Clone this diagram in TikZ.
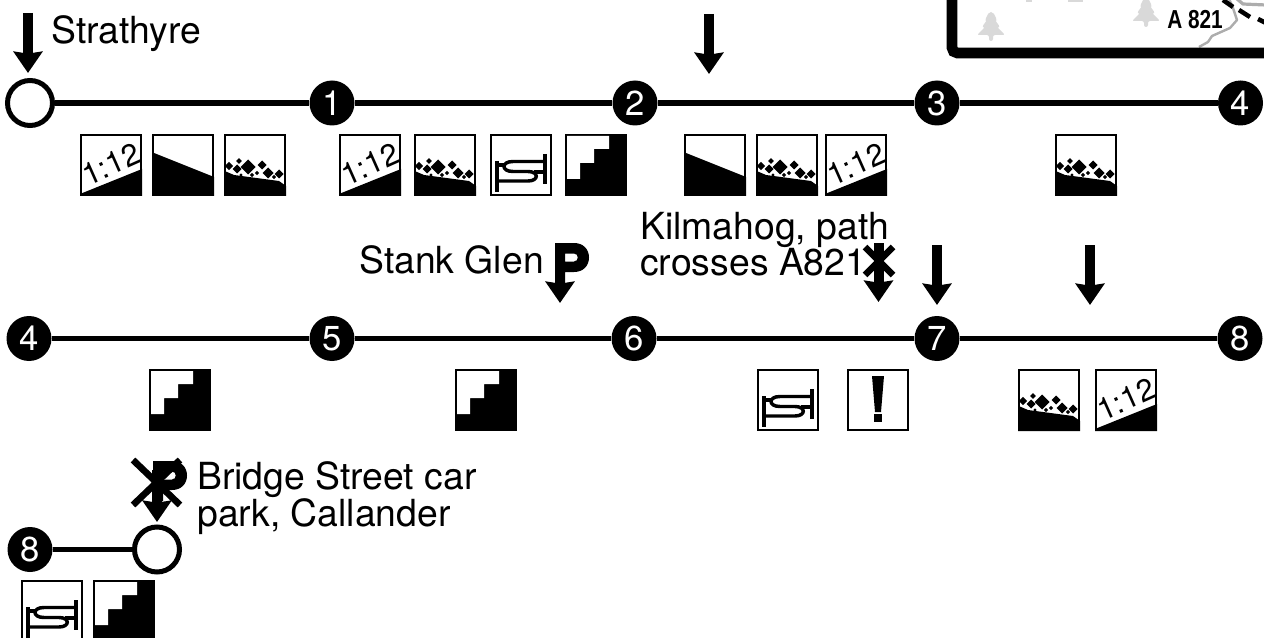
\documentclass[tikz,border=0pt]{standalone}
\usepackage{fontspec}
\usepackage{graphicx}
\setmainfont{TeX Gyre Heros}
\newfontfamily\labelbold{Liberation Sans}[BoldFont={Liberation Sans Bold}]
\usetikzlibrary{arrows.meta}
\definecolor{treegrey}{gray}{0.85}
\definecolor{roadgrey}{gray}{0.68}
\tikzset{
  x=0.75pt,y=-0.75pt,
  open stop/.style={circle,draw=black,fill=white,line width=3.75pt,minimum size=33.75pt,inner sep=0pt},
  num stop/.style={circle,fill=black,text=white,minimum size=33.75pt,inner sep=0pt,font=\fontsize{26}{26}\selectfont},
  route/.style={line width=4.1pt},
  access/.style={line width=7.5pt,-{Stealth[length=16pt,width=21.5pt,inset=1.5pt]}},
  place/.style={inner sep=0pt,anchor=base west,align=left,font=\fontsize{28}{27.75}\selectfont},
  iconframe/.style={draw=black,line width=1.6pt,fill=white},
  cross black/.style={line width=5pt},
  up12/.pic={
    \path[iconframe] (1,1) rectangle (61,61);
    \fill (0,60) -- (62,35) -- (62,62) -- (0,62) -- cycle;
    \node[rotate=24,inner sep=0pt,font=\fontsize{23}{23}\selectfont] at (31,30) {1:12};
  },
  wedge/.pic={
    \path[iconframe] (1,1) rectangle (61,61);
    \fill (2,19) -- (62,43) -- (62,62) -- (0,62) -- (0,19) -- cycle;
  },
  rocks/.pic={
    \path[iconframe] (1,1) rectangle (61,61);
    \fill (0,36.7) -- (10,41) -- (55,47) -- (62,52) -- (62,62) -- (0,62) -- cycle;
    \foreach \cx/\cy/\cr in {5/32/4.2,15/27/2.8,13/35/4.5,24/33/7.5,38/31/4.5,44/39/5.5,55/40/4.5,28/41/2.2,33/39/2.2,17/41/1.7,50/43/2.2}
      {\fill (\cx-\cr,\cy) -- (\cx,\cy-\cr) -- (\cx+\cr,\cy) -- (\cx,\cy+\cr) -- cycle;}
  },
  stairs/.pic={
    \fill (0,0) rectangle (62,62);
    \fill[white] (2,2) -- (44,2) -- (44,15) -- (29,15) -- (29,29) -- (15,29) -- (15,45) -- (2,45) -- cycle;
  },
  bed/.pic={
    \path[iconframe] (1,1) rectangle (61,61);
    \draw[line width=3pt] (6.7,27) -- (6.7,58) (55,20) -- (55,50);
    \draw[line width=2.6pt] (55,27.5) -- (23,27.5) .. controls (11,27.5) and (11,37.5) .. (23,37.5) -- (38,37.5) .. controls (49,37.5) and (49,47) .. (38,47) -- (6.7,47);
    \draw[line width=2.6pt] (6.7,31) -- (15,31) (44,38) -- (55,38);
  },
  warn/.pic={
    \path[iconframe] (1,1) rectangle (61,61);
    \fill (25,7) -- (37,7) -- (34,43) -- (28,43) -- cycle;
    \fill (27,45) rectangle (35,53);
  },
  parkp/.pic={
    \fill[even odd rule] (0,0) -- (19,0) .. controls (28,0) and (34,6) .. (34,14.5) .. controls (34,23) and (28,29) .. (19,29) -- (10,29) -- (10,40) -- (0,40) -- cycle
      (10,10.5) -- (19,10.5) .. controls (24,10.5) and (24,18.5) .. (19,18.5) -- (10,18.5) -- cycle;
  },
  pine/.pic={
    \fill[treegrey,rounded corners=1.5pt] (-2,0) -- (2,0) -- (6,8) -- (4,8) -- (9,15) -- (6,15) -- (14,23) -- (2,23) -- (2,29) -- (-2,29) -- (-2,23) -- (-14,23) -- (-6,15) -- (-9,15) -- (-4,8) -- (-6,8) -- cycle;
  },
}
\begin{document}
\begin{tikzpicture}
\useasboundingbox (0,0) rectangle (1264,638);
\clip (0,0) rectangle (1264,638);

% map inset
\pic at (991,12) {pine};
\pic at (1146,-2) {pine};
\fill[treegrey] (1026,-1) rectangle (1032,2);
\fill[treegrey] (1068,-1) rectangle (1083,2);
\draw[roadgrey,line width=1.8pt,line join=round] (1199,47) -- (1208,42) -- (1212,36) -- (1230,28) -- (1237,20) -- (1232,5) -- (1229,-1);
\draw[roadgrey,line width=2.4pt,line join=round] (1237,-1) -- (1243,4) -- (1266,5);
\draw[line width=3.4pt] (1223,0) -- (1233,7) (1239,10) -- (1250,17) (1258,19) -- (1266,23);
\draw[line width=8pt,rounded corners=4pt] (952,-20) |- (1290,53);
\node[inner sep=0pt,anchor=base west] (a821) at (1167,29) {\scalebox{.8}[1]{\labelbold\bfseries\fontsize{19.5}{19.5}\selectfont A 821}};

% row 1
\node[open stop] (s0) at (30,103) {};
\node[num stop] (r1a) at (332,103) {1};
\node[num stop] (r1b) at (635,103) {2};
\node[num stop] (r1c) at (937,103) {3};
\node[num stop] (r1d) at (1240.5,103) {4};
\draw[route] (s0) -- (r1a);
\draw[route] (r1a) -- (r1b);
\draw[route] (r1b) -- (r1c);
\draw[route] (r1c) -- (r1d);

% row 2
\node[num stop] (r2a) at (29,338.5) {4};
\node[num stop] (r2b) at (332,338.5) {5};
\node[num stop] (r2c) at (634,338.5) {6};
\node[num stop] (r2d) at (937,338.5) {7};
\node[num stop] (r2e) at (1240,338.5) {8};
\draw[route] (r2a) -- (r2b);
\draw[route] (r2b) -- (r2c);
\draw[route] (r2c) -- (r2d);
\draw[route] (r2d) -- (r2e);

% row 3
\node[num stop] (r3a) at (30,549.5) {8};
\node[open stop] (s9) at (157,549.5) {};
\draw[route] (r3a) -- (s9);

% labels
\node[place] (lstr) at (51,44) {Strathyre};
\node[place] (lsta) at (359,273) {Stank Glen};
\node[place] (lkil) at (640,276) {Kilmahog, path\\crosses A821};
\node[place] (lbri) at (197,526) {Bridge Street car\\park, Callander};

% parking signs
\pic at (555,243) {parkp};
\pic at (153,461) {parkp};

% crosses
\draw[cross black] (865,247) -- (893,275) (865,275) -- (893,247);
\draw[cross black] (133,460) -- (180,505) (133,505) -- (180,460);

% access arrows
\coordinate (aa) at (28,13); \coordinate (ab) at (28,73);
\draw[access] (aa) -- (ab);
\coordinate (ba) at (709,14); \coordinate (bb) at (709,74);
\draw[access] (ba) -- (bb);
\coordinate (ca) at (560,270); \coordinate (cb) at (560,303);
\draw[access] (ca) -- (cb);
\coordinate (da) at (878.5,243); \coordinate (db) at (878.5,302);
\draw[access] (da) -- (db);
\coordinate (ea) at (937,245); \coordinate (eb) at (937,305);
\draw[access] (ea) -- (eb);
\coordinate (fa) at (1090,245); \coordinate (fb) at (1090,305);
\draw[access] (fa) -- (fb);
\coordinate (ga) at (157,470); \coordinate (gb) at (157,522);
\draw[access] (ga) -- (gb);

% icons row 1
\pic at (80,134) {up12};
\pic at (152,134) {wedge};
\pic at (224,134) {rocks};
\pic at (339,134) {up12};
\pic at (414,134) {rocks};
\pic at (490,134) {bed};
\pic at (565,134) {stairs};
\pic at (684,134) {wedge};
\pic at (756,134) {rocks};
\pic at (825,134) {up12};
\pic at (1055,134) {rocks};

% icons row 2
\pic at (149,369) {stairs};
\pic at (455,369) {stairs};
\pic at (757,369) {bed};
\pic at (847,369) {warn};
\pic at (1018,369) {rocks};
\pic at (1095,369) {up12};

% icons row 3
\pic at (21,580) {bed};
\pic at (93,580) {stairs};
\end{tikzpicture}
\end{document}
